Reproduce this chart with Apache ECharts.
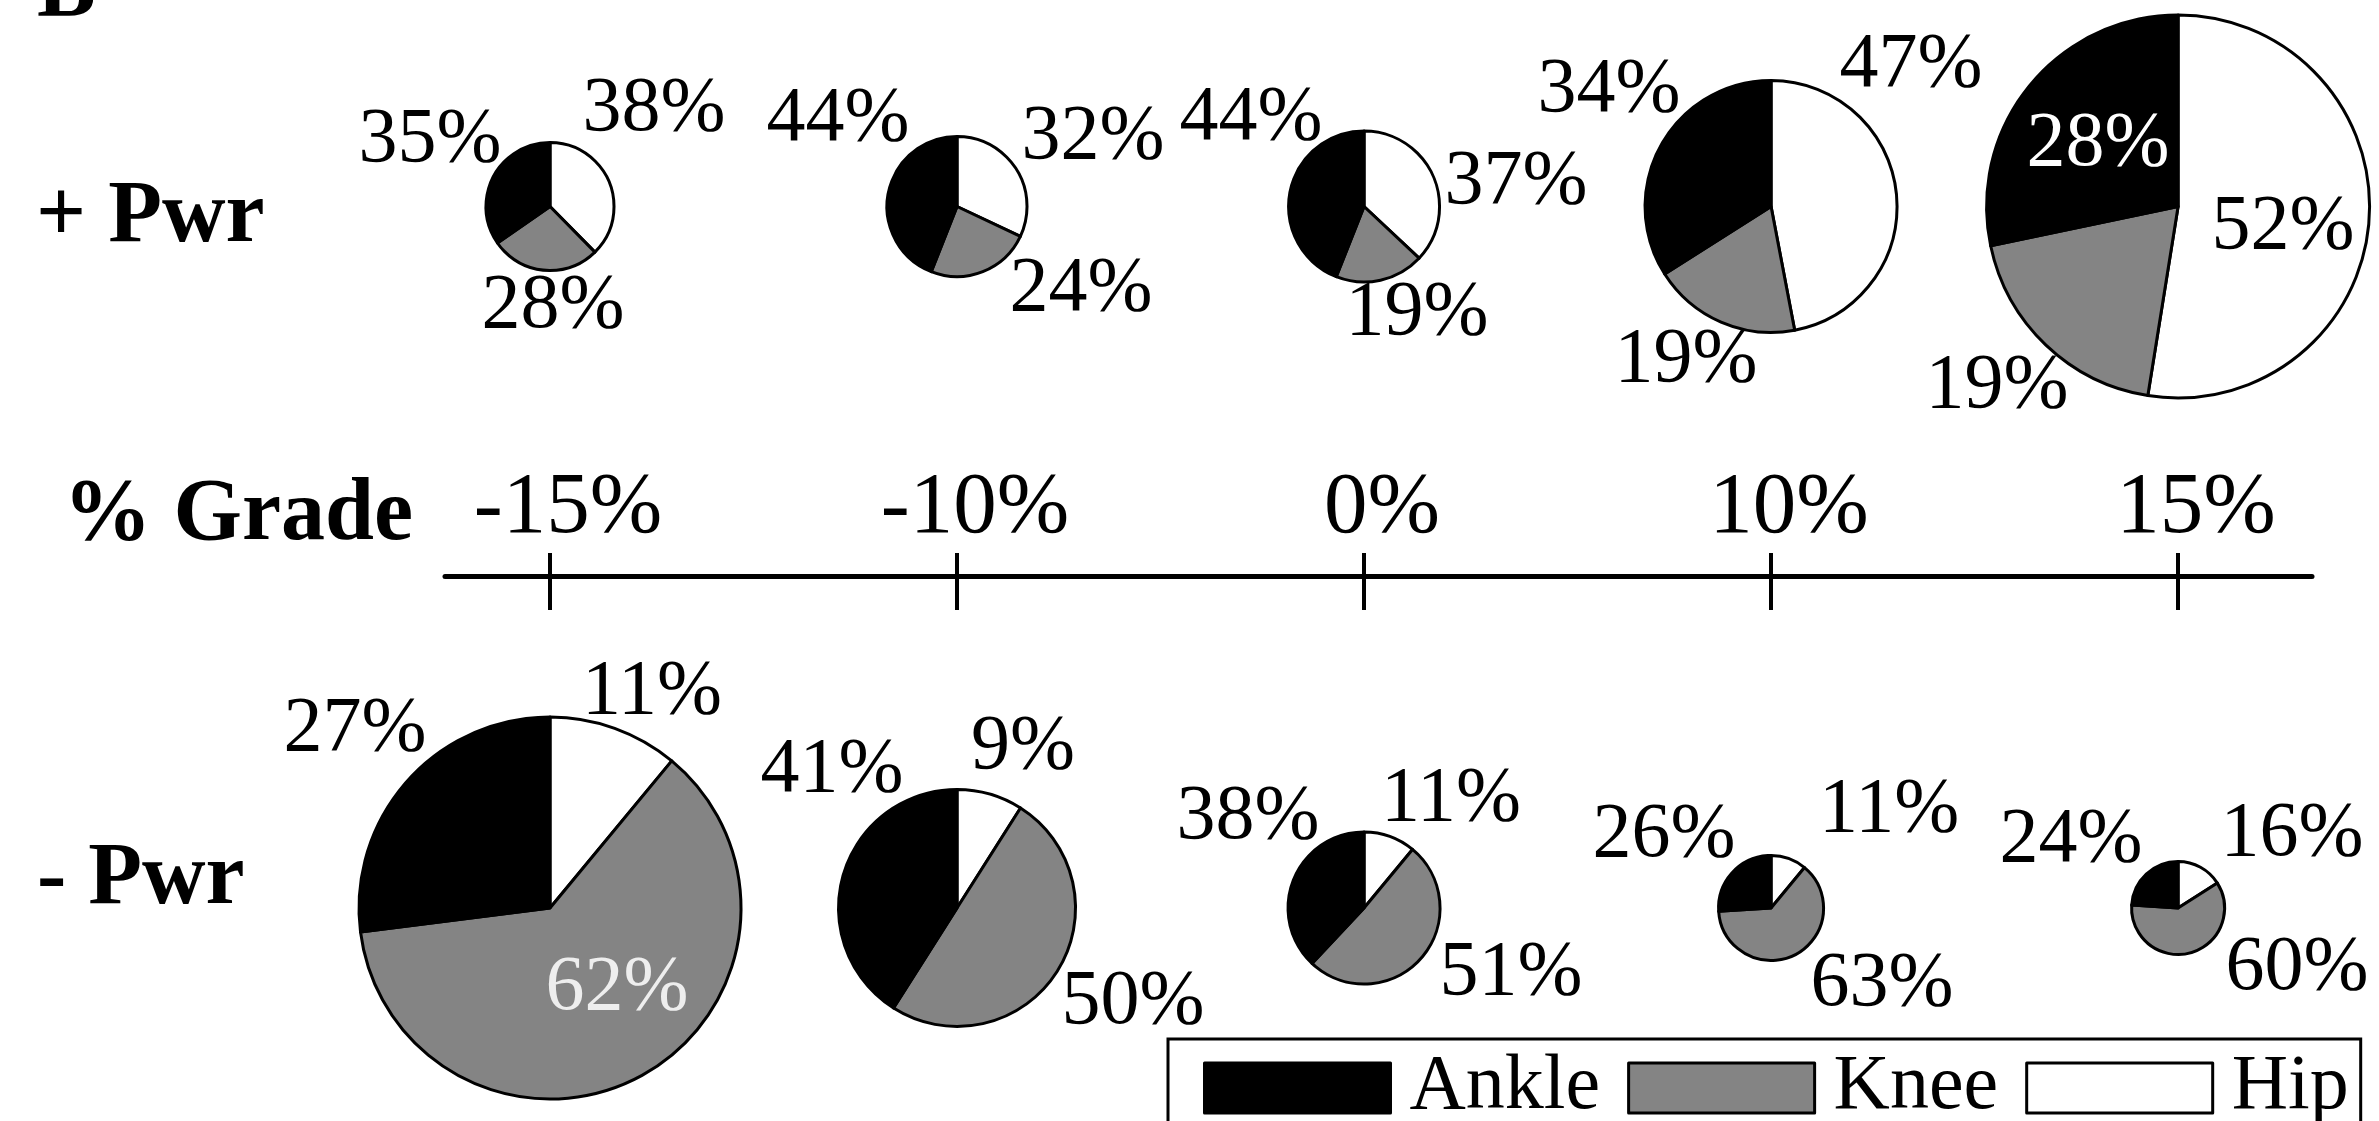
<!DOCTYPE html>
<html>
<head>
<meta charset="utf-8">
<script src="https://cdn.jsdelivr.net/npm/echarts@6/dist/echarts.min.js"></script>
<style>
  html, body { margin: 0; padding: 0; background: #ffffff; }
  #chart { width: 2379px; height: 1121px; }
</style>
</head>
<body>
<div id="chart"></div>
<script>
// ---- data: share of joint power per grade (%) ----
const grades = ['-15%', '-10%', '0%', '10%', '15%'];
const joints = ['Ankle', 'Knee', 'Hip'];

// positive power
const posAnkle = [35, 44, 44, 34, 28];
const posKnee  = [28, 24, 19, 19, 19];
const posHip   = [38, 32, 37, 47, 52];

// negative power
const negAnkle = [27, 41, 38, 26, 24];
const negKnee  = [62, 50, 51, 63, 60];
const negHip   = [11,  9, 11, 11, 16];

// ---- layout & style ----
const FONT = "'Liberation Serif', 'Times New Roman', serif";
const jointColor = { Ankle: '#000000', Knee: '#848484', Hip: '#ffffff' };
const rowCenterY = { pos: 206.5, neg: 908 };
const posRadius = [64, 70, 75.5, 126, 191.5];
const negRadius = [191, 118.5, 76, 52.5, 46.5];

// label offsets from each pie centre, [dx, dy] per joint
const posLabelOffset = [
  { Ankle: [-120, -66], Knee: [3, 100],   Hip: [104, -97] },
  { Ankle: [-119, -87], Knee: [124, 83],  Hip: [136, -69] },
  { Ankle: [-113, -88], Knee: [53, 107],  Hip: [152, -24] },
  { Ankle: [-162, -116], Knee: [-85, 154], Hip: [140, -141] },
  { Ankle: [-80, -62],  Knee: [-181, 180], Hip: [105, 21] }
];
const negLabelOffset = [
  { Ankle: [-195, -178], Knee: [67, 81],  Hip: [102, -215] },
  { Ankle: [-125, -137], Knee: [176, 95], Hip: [66, -160] },
  { Ankle: [-116, -90],  Knee: [147, 66], Hip: [87, -108] },
  { Ankle: [-107, -72],  Knee: [111, 77], Hip: [118, -97] },
  { Ankle: [-107, -67],  Knee: [119, 61], Hip: [114, -73] }
];
// labels drawn in white on dark slices
const lightLabels = { 'pos-4-Ankle': '#ffffff', 'neg-0-Knee': '#eeeeee' };

// axis extent in grade-index units (ticks sit on 0..4)
const axisMin = -0.258;
const axisMax = 4.329;
const tickIdx = grades.map((g, i) => i);

const chart = echarts.init(document.getElementById('chart'), null, { renderer: 'canvas' });

chart.setOption({
  animation: false,
  backgroundColor: '#ffffff',
  grid: { left: 445, right: 67, top: 100, bottom: 545 },
  xAxis: [
    {
      type: 'value', position: 'bottom', min: axisMin, max: axisMax,
      axisLine: { show: true, onZero: false, lineStyle: { color: '#000', width: 5 } },
      axisTick: { show: true, inside: false, length: 34, customValues: tickIdx,
                  lineStyle: { color: '#000', width: 4 } },
      axisLabel: {
        show: true, inside: true, margin: 67, customValues: tickIdx,
        formatter: v => grades[Math.round(v)],
        fontFamily: FONT, fontSize: 87, color: '#000',
        verticalAlign: 'middle', padding: [0, 0, 0, 36]
      },
      splitLine: { show: false }
    },
    {
      type: 'value', position: 'bottom', min: axisMin, max: axisMax,
      axisLine: { show: false, onZero: false },
      axisTick: { show: true, inside: true, length: 23, customValues: tickIdx,
                  lineStyle: { color: '#000', width: 4 } },
      axisLabel: { show: false },
      splitLine: { show: false }
    }
  ],
  yAxis: { type: 'value', show: false, min: 0, max: 1 },
  legend: {
    data: joints,
    left: 1168, top: 1039,
    orient: 'horizontal',
    padding: [10, 12, 19, 35],
    itemWidth: 186, itemHeight: 50, itemGap: 27,
    icon: 'rect',
    borderColor: '#000', borderWidth: 3, backgroundColor: '#ffffff',
    itemStyle: { borderColor: '#000', borderWidth: 3 },
    textStyle: { fontFamily: FONT, fontSize: 78, color: '#000', padding: [0, 0, 0, 14] },
    selectedMode: false
  },
  graphic: [
    { type: 'text', x: 37, y: -8, style: { text: 'B', font: 'bold 88px ' + FONT, fill: '#000',
        textAlign: 'left', textVerticalAlign: 'middle' } },
    { type: 'text', x: 36, y: 218, style: { text: '+ Pwr', font: 'bold 88px ' + FONT, fill: '#000',
        textAlign: 'left', textVerticalAlign: 'middle' } },
    { type: 'text', x: 413, y: 516, style: { text: '% Grade', font: 'bold 88px ' + FONT, fill: '#000',
        textAlign: 'right', textVerticalAlign: 'middle' } },
    { type: 'text', x: 37, y: 880, style: { text: '- Pwr', font: 'bold 88px ' + FONT, fill: '#000',
        textAlign: 'left', textVerticalAlign: 'middle' } }
  ],
  series: []
});

// pie centres follow the grade axis
const centerX = grades.map((g, i) => chart.convertToPixel({ xAxisIndex: 0 }, i));

function buildPie(row, i, ankle, knee, hip, radius, offsets) {
  const cx = centerX[i];
  const cy = rowCenterY[row];
  const vals = { Ankle: ankle[i], Knee: knee[i], Hip: hip[i] };
  // clockwise from 12 o'clock: Hip, Knee, Ankle
  const order = ['Hip', 'Knee', 'Ankle'];
  return {
    type: 'pie',
    name: row + ' ' + grades[i],
    center: [cx, cy],
    radius: [0, radius[i]],
    startAngle: 90,
    clockwise: true,
    avoidLabelOverlap: false,
    silent: true,
    emphasis: { disabled: true },
    itemStyle: { borderColor: '#000', borderWidth: 3 },
    label: {
      show: true, position: 'inside', formatter: '{c}%',
      fontFamily: FONT, fontSize: 78, color: '#000',
      textBorderWidth: 0, textShadowBlur: 0
    },
    labelLine: { show: false },
    labelLayout: params => {
      const name = order[params.dataIndex];
      const off = offsets[i][name];
      return { x: cx + off[0], y: cy + off[1], align: 'center', verticalAlign: 'middle' };
    },
    data: order.map(name => ({
      name: name,
      value: vals[name],
      itemStyle: { color: jointColor[name] },
      label: { color: lightLabels[row + '-' + i + '-' + name] || '#000' }
    }))
  };
}

const series = [];
grades.forEach((g, i) => {
  series.push(buildPie('pos', i, posAnkle, posKnee, posHip, posRadius, posLabelOffset));
  series.push(buildPie('neg', i, negAnkle, negKnee, negHip, negRadius, negLabelOffset));
});

chart.setOption({ series: series });
</script>
</body>
</html>
